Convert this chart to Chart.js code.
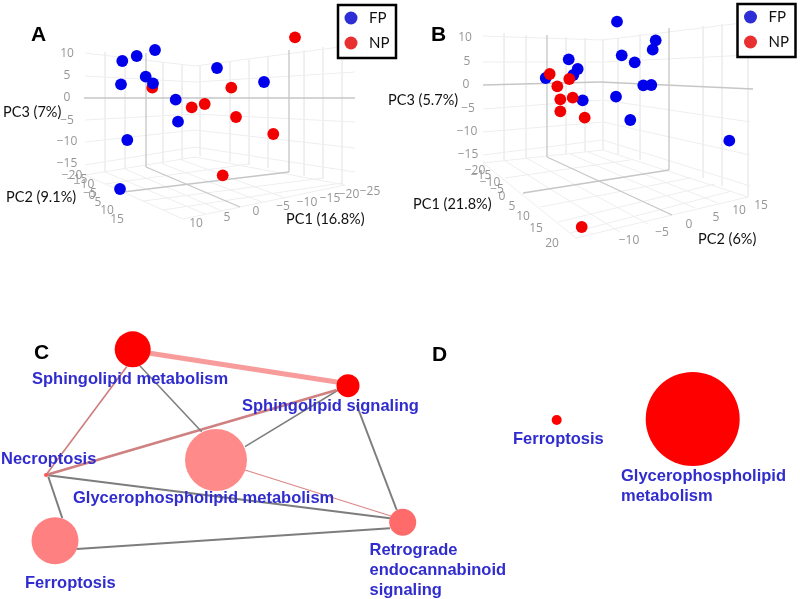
<!DOCTYPE html>
<html>
<head>
<meta charset="utf-8">
<script src="https://cdn.jsdelivr.net/npm/chart.js@4"></script>
<style>
html, body { margin: 0; padding: 0; background: #fff; }
canvas { display: block; }
</style>
</head>
<body>
<canvas id="myChart" width="800" height="599"></canvas>
<script>
// PCA panels: values, in picture units
const fpAx = [155, 136.7, 122.3, 217, 145.7, 153, 121, 264, 175.7, 178, 127.3, 120];
const fpAy = [50, 56, 61, 68, 76.7, 83.3, 84.3, 82, 99.7, 121.7, 140, 189];
const npAx = [295, 231.3, 152.3, 191.7, 204.7, 236, 273.3, 222.7];
const npAy = [37.3, 87.7, 87.7, 107.3, 104, 117, 134, 175.3];

const fpBx = [617, 655.7, 652.7, 621.7, 634.7, 568.7, 577.7, 573.3, 545.7, 643.3, 651.3, 616, 582.7, 630.3, 729.3];
const fpBy = [21.7, 40.3, 49.7, 55.3, 62.3, 59.3, 69, 75, 78, 85.3, 85, 96.7, 100.3, 120, 140.7];
const npBx = [549.7, 569.3, 557.3, 560.3, 572.7, 560.3, 584.7, 581.7];
const npBy = [74, 79, 86.3, 99.3, 97.7, 111.3, 117.7, 227];

// network panels
const nodeNames = ['Sphingolipid metabolism', 'Sphingolipid signaling', 'Glycerophospholipid metabolism', 'Necroptosis', 'Ferroptosis', 'Retrograde endocannabinoid signaling'];
const nodeX = [132.7, 348, 216, 46, 55, 402.7];
const nodeY = [349.3, 385.7, 460, 475, 540.7, 522.3];
const nodeSize = [18, 11.5, 31, 2, 23.5, 13.5];

// edges do not aim at the node centres in the picture, so each keeps its own ends
const edgeX1 = [146.7, 126.7, 140, 336.7, 338.3, 356.7, 245, 46, 48.3, 76.7];
const edgeY1 = [352.7, 366.7, 366, 390, 390, 405, 470, 475, 476.7, 549];
const edgeX2 = [338.3, 46, 201.7, 46, 245, 396.7, 393.3, 390, 62.3, 390];
const edgeY2 = [382.3, 475, 431.7, 475, 446.7, 510, 516.7, 518.3, 518.3, 528.3];
const edgeWeight = [5, 1.6, 1.5, 2.6, 1.5, 2, 1.2, 2, 2, 2];

const nodeDx = [556.7, 692.7];
const nodeDy = [420, 419];
const nodeDSize = [5, 47];

// axis labels
const zTicks = ['10', '5', '0', '\u22125', '\u221210', '\u221215'];
const pc2TicksA = ['\u221220', '\u221215', '\u221210', '\u22125', '0', '5', '10', '15'];
const pc1TicksA = ['10', '5', '0', '\u22125', '\u221210', '\u221215', '\u221220', '\u221225'];
const pc1TicksB = ['\u221220', '\u221215', '\u221210', '\u22125', '0', '5', '10', '15', '20'];
const pc2TicksB = ['\u221210', '\u22125', '0', '5', '10', '15'];

// box grid, each row x1, y1, x2, y2
const gridA = [
    [85, 53, 195, 66], [195, 66, 355, 45], [85, 76, 195, 82], [195, 82, 355, 72],
    [85, 120, 195, 114], [195, 114, 355, 122], [85, 142, 195, 130], [195, 130, 355, 148],
    [85, 165, 195, 147], [195, 147, 355, 172],
    [105, 52, 105, 172], [125, 55, 125, 169], [163, 62, 163, 164], [182, 65, 182, 160], [200, 66, 200, 156],
    [230, 62, 230, 162], [249, 59, 249, 165], [268, 56, 268, 168], [304, 50, 304, 176], [323, 47, 323, 179], [342, 46, 342, 184],
    [85, 175, 195, 157], [195, 157, 345, 185], [85, 175, 183, 219], [183, 219, 345, 185],
    [105, 172, 205, 214], [125, 169, 222, 211], [163, 164, 262, 202], [182, 160, 285, 198],
    [105, 184, 249, 164], [143, 201, 323, 178], [163, 210, 342, 183]
];
const axesA = [[84, 98, 355, 98], [146, 53, 146, 167], [289, 50, 289, 172], [146, 167, 240, 207], [123, 192, 289, 172]];

const gridB = [
    [483, 36, 603, 40], [603, 40, 750, 22], [483, 62, 603, 62], [603, 62, 750, 55],
    [483, 109, 603, 100], [603, 100, 750, 122], [483, 132, 603, 122], [603, 122, 750, 155],
    [483, 155, 603, 140], [603, 140, 750, 186],
    [504, 33, 504, 160], [526, 35, 526, 158], [566, 37, 566, 154], [585, 38, 585, 152], [603, 39, 603, 150],
    [618, 38, 618, 154], [640, 34, 640, 160], [703, 26, 703, 178], [722, 24, 722, 186], [748, 22, 748, 197],
    [483, 163, 603, 150], [603, 150, 748, 197], [483, 163, 576, 238], [576, 238, 672, 215], [672, 215, 748, 197],
    [505, 161, 620, 232], [526, 158, 648, 224], [570, 154, 695, 208], [588, 152, 718, 203],
    [505, 178, 630, 160], [540, 207, 690, 178], [558, 222, 715, 184], [570, 233, 732, 191]
];
const axesB = [[483, 85, 600, 82], [600, 82, 753, 89], [547, 35, 547, 157], [669, 28, 669, 170], [547, 157, 672, 215], [523, 193, 669, 170]];

const blue = 'rgb(0, 0, 235)';
const red = 'rgb(242, 0, 0)';
const nodeRed = 'rgb(255, 0, 0)';
const nodeColors = [nodeRed, nodeRed, 'rgb(255, 138, 138)', 'rgb(255, 85, 85)', 'rgb(255, 128, 128)', 'rgb(255, 106, 106)'];
const edgeColors = ['rgb(247, 155, 155)', 'rgb(205, 125, 125)', 'rgb(125, 125, 125)', 'rgb(207, 128, 128)', 'rgb(125, 125, 125)', 'rgb(125, 125, 125)', 'rgb(218, 135, 135)', 'rgb(125, 125, 125)', 'rgb(125, 125, 125)', 'rgb(125, 125, 125)'];

function zip(xs, ys) {
    return xs.map((x, i) => ({ x: x, y: ys[i] }));
}

function pointSet(xs, ys, color, order, radius) {
    return {
        data: zip(xs, ys),
        backgroundColor: color,
        borderWidth: 0,
        pointRadius: radius,
        pointHoverRadius: radius,
        order: order
    };
}

function lineSet(seg, color, width, order) {
    return {
        data: [{ x: seg[0], y: seg[1] }, { x: seg[2], y: seg[3] }],
        showLine: true,
        pointRadius: 0,
        borderColor: color,
        borderWidth: width,
        order: order
    };
}

const datasets = [];
gridA.concat(gridB).forEach(s => datasets.push(lineSet(s, 'rgb(238, 238, 240)', 1, 9)));
axesA.concat(axesB).forEach(s => datasets.push(lineSet(s, 'rgb(198, 198, 200)', 1.3, 8)));
edgeX1.forEach((x, i) => {
    datasets.push(lineSet([x, edgeY1[i], edgeX2[i], edgeY2[i]], edgeColors[i], edgeWeight[i], 7));
});
datasets.push(pointSet(nodeX, nodeY, nodeColors, 6, nodeSize));
datasets.push(pointSet(nodeDx, nodeDy, nodeRed, 6, nodeDSize));
datasets.push(pointSet(npAx, npAy, red, 5, 5.9));
datasets.push(pointSet(fpAx, fpAy, blue, 4, 5.9));
datasets.push(pointSet(fpBx, fpBy, blue, 5, 5.9));
datasets.push(pointSet(npBx, npBy, red, 4, 5.9));

const tickFont = '12px "Open Sans"';
const tickColor = 'rgb(150, 150, 150)';
const axisFont = '14.5px Lato';
const nameFont = 'bold 16.5px "Liberation Sans"';
const nameColor = 'rgb(48, 44, 205)';
const panelFont = 'bold 21px "Liberation Sans"';

// text placed through the same x and y scales as the marks
const texts = [
    ['A', 31, 41, panelFont, '#000'], ['B', 431, 41, panelFont, '#000'],
    ['C', 34, 359, panelFont, '#000'], ['D', 432, 361, panelFont, '#000'],
    ['PC3 (7%)', 3, 117, axisFont, '#111'], ['PC2 (9.1%)', 6, 202, axisFont, '#111'], ['PC1 (16.8%)', 286, 224, axisFont, '#111'],
    ['PC3 (5.7%)', 388, 105, axisFont, '#111'], ['PC1 (21.8%)', 413, 209, axisFont, '#111'], ['PC2 (6%)', 698, 244, axisFont, '#111'],
    [nodeNames[0], 32, 384, nameFont, nameColor], [nodeNames[1], 242, 411, nameFont, nameColor],
    [nodeNames[3], 1, 464, nameFont, nameColor], [nodeNames[2], 73, 503, nameFont, nameColor],
    [nodeNames[4], 25, 588, nameFont, nameColor], ['Retrograde', 369.5, 555, nameFont, nameColor],
    ['endocannabinoid', 369.5, 575, nameFont, nameColor], ['signaling', 369.5, 595, nameFont, nameColor],
    [nodeNames[4], 513, 444, nameFont, nameColor], ['Glycerophospholipid', 621, 481, nameFont, nameColor],
    ['metabolism', 621, 501, nameFont, nameColor]
];

const tickPlaces = [
    [zTicks, [[67, 54], [67, 76], [67, 98], [67, 121], [67, 142], [67, 164]]],
    [pc2TicksA, [[72, 176], [77, 180], [84, 185], [90, 194], [92, 196], [98, 203], [107, 211], [117, 220]]],
    [pc1TicksA, [[196, 224], [227, 218], [256, 212], [283, 207], [307, 203], [330, 199], [349, 195], [370, 192]]],
    [zTicks, [[465, 38], [467, 62], [466, 85], [468, 109], [467, 132], [468, 155]]],
    [pc1TicksB, [[475, 171], [481, 176], [490, 183], [497, 190], [502, 197], [512, 207], [523, 217], [536, 229], [552, 244]]],
    [pc2TicksB, [[629, 241], [662, 233], [689, 225], [716, 218], [739, 211], [761, 206]]]
];

const legends = [[338, 5], [737.5, 4]];

const panelText = {
    id: 'panelText',
    afterDatasetsDraw(chart) {
        const c = chart.ctx;
        const sx = chart.scales.x;
        const sy = chart.scales.y;
        c.save();
        c.textAlign = 'center';
        c.textBaseline = 'middle';
        c.font = tickFont;
        c.fillStyle = tickColor;
        tickPlaces.forEach(([labels, places]) => {
            labels.forEach((t, i) => c.fillText(t, sx.getPixelForValue(places[i][0]), sy.getPixelForValue(places[i][1])));
        });
        c.textAlign = 'left';
        c.textBaseline = 'alphabetic';
        texts.forEach(([t, x, y, font, color]) => {
            c.font = font;
            c.fillStyle = color;
            c.fillText(t, sx.getPixelForValue(x), sy.getPixelForValue(y));
        });
        legends.forEach(([x, y]) => {
            c.strokeStyle = '#000';
            c.lineWidth = 2.5;
            c.fillStyle = '#fff';
            c.fillRect(x, y, 58, 53);
            c.strokeRect(x, y, 58, 53);
            c.beginPath();
            c.arc(x + 13, y + 13, 6.5, 0, Math.PI * 2);
            c.fillStyle = 'rgb(46, 46, 215)';
            c.fill();
            c.beginPath();
            c.arc(x + 13, y + 38, 6.5, 0, Math.PI * 2);
            c.fillStyle = 'rgb(232, 48, 48)';
            c.fill();
            c.font = '15px Lato';
            c.fillStyle = '#111';
            c.fillText('FP', x + 31, y + 18);
            c.fillText('NP', x + 31, y + 43);
        });
        c.restore();
    }
};

new Chart(document.getElementById('myChart'), {
    type: 'scatter',
    data: { datasets: datasets },
    options: {
        responsive: false,
        animation: false,
        layout: { padding: 0, autoPadding: false },
        plugins: { legend: { display: false }, tooltip: { enabled: false } },
        scales: {
            x: { type: 'linear', min: 0, max: 800, display: false },
            y: { type: 'linear', min: 0, max: 599, reverse: true, display: false }
        }
    },
    plugins: [panelText]
});
</script>
</body>
</html>
